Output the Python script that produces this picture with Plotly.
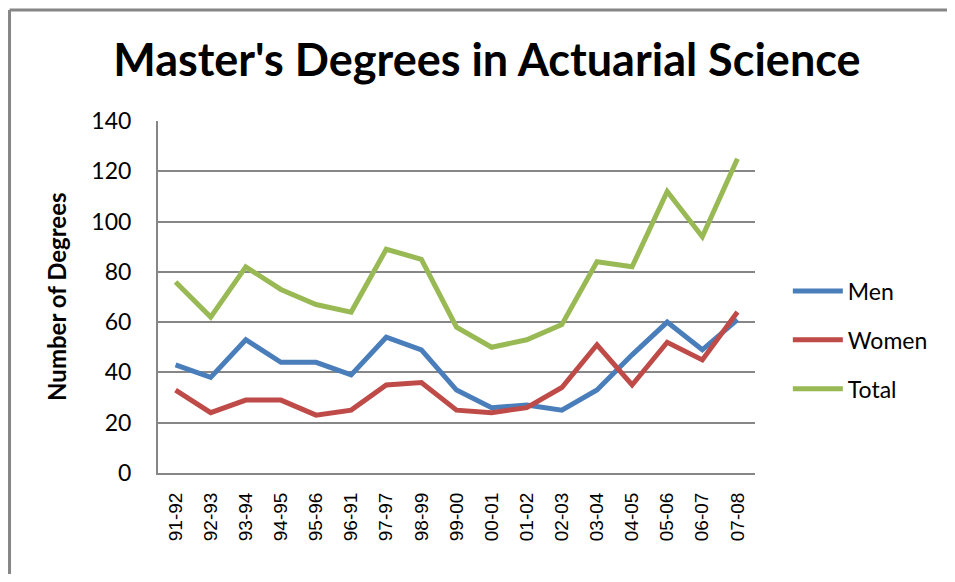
import plotly.graph_objects as go

years = ["91-92", "92-93", "93-94", "94-95", "95-96", "96-91", "97-97", "98-99",
         "99-00", "00-01", "01-02", "02-03", "03-04", "04-05", "05-06", "06-07", "07-08"]
men = [43, 38, 53, 44, 44, 39, 54, 49, 33, 26, 27, 25, 33, 47, 60, 49, 61]
women = [33, 24, 29, 29, 23, 25, 35, 36, 25, 24, 26, 34, 51, 35, 52, 45, 64]
total = [76, 62, 82, 73, 67, 64, 89, 85, 58, 50, 53, 59, 84, 82, 112, 94, 125]

series = [("Men", men, "#4A7EBB"), ("Women", women, "#BE4B48"), ("Total", total, "#98B954")]

fig = go.Figure()
for name, vals, col in series:
    fig.add_trace(go.Scatter(x=years, y=vals, name=name, mode="lines",
                             legendgroup=name,
                             line=dict(color=col, width=5)))

fig.update_layout(
    width=939, height=566,
    margin=dict(l=150, r=192, t=113, b=101),
    paper_bgcolor="white", plot_bgcolor="white",
    title=dict(text="<b>Master's Degrees in Actuarial Science</b>",
               font=dict(family="Lato", size=45, color="black"),
               x=0.51, xanchor="center", y=0.908, yanchor="middle"),
    xaxis=dict(type="category", range=[-0.5, 16.5], showgrid=False,
               showline=True, linecolor="#868686", linewidth=2,
               tickangle=-90, ticks="", ticklabelstandoff=10,
               tickfont=dict(family="Liberation Sans", size=19, color="black")),
    yaxis=dict(range=[0, 140], dtick=20, showgrid=True, gridcolor="#868686", gridwidth=2,
               showline=True, linecolor="#868686", linewidth=2, zeroline=False,
               ticks="", ticklabelstandoff=20,
               tickfont=dict(family="Lato", size=23, color="black")),
    legend=dict(x=1.055, xanchor="left", y=0.378, yanchor="middle",
                font=dict(family="Lato", size=23, color="black"),
                tracegroupgap=16, itemwidth=50, bgcolor="rgba(0,0,0,0)"),
    showlegend=True,
)

fig.add_annotation(text="<b>Number of Degrees</b>", xref="paper", yref="paper",
                   x=-0.171, y=0.5, xanchor="center", yanchor="middle", textangle=-90,
                   showarrow=False, font=dict(family="Lato", size=24, color="black"))

# chart-area frame: only left and top edges are visible in the reference
fig.add_shape(type="line", xref="paper", yref="paper",
              x0=-0.2487, x1=-0.2487, y0=-0.6, y1=1.315,
              line=dict(color="#868686", width=3), layer="below")
fig.add_shape(type="line", xref="paper", yref="paper",
              x0=-0.2487, x1=1.5, y0=1.315, y1=1.315,
              line=dict(color="#868686", width=3), layer="below")

fig.write_html("out.html")
